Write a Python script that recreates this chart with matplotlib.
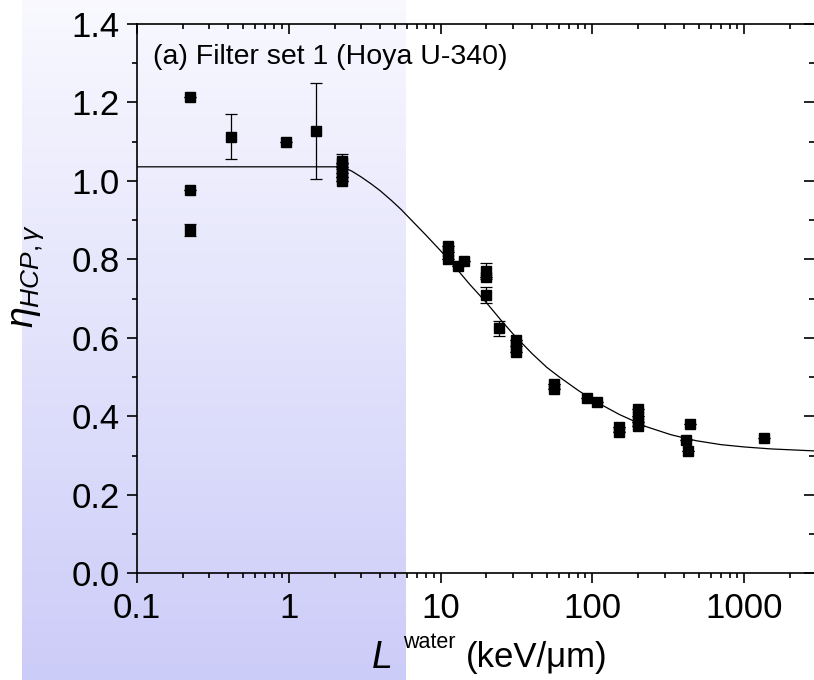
import numpy as np
import matplotlib
matplotlib.use("Agg")
import matplotlib.pyplot as plt
from matplotlib.ticker import FixedLocator, NullFormatter, LogLocator

plt.rcParams['font.family'] = ['Liberation Sans', 'DejaVu Sans']
plt.rcParams['mathtext.fontset'] = 'custom'
plt.rcParams['mathtext.rm'] = 'Liberation Sans'
plt.rcParams['mathtext.it'] = 'Liberation Sans:italic'

# measured points (LET in keV/um, eta)
let_vals = [0.223, 0.223, 0.223, 0.413, 0.955, 1.50,
            2.24, 2.24, 2.24, 2.24, 2.24, 2.24,
            11.1, 11.1, 11.1, 13.1, 14.2,
            19.8, 19.8, 19.8, 24.2,
            31.5, 31.5, 31.5, 56.2, 56.2,
            91.9, 107, 149, 149,
            199, 199, 199, 199,
            437, 412, 423, 1340]
eta_vals = [1.215, 0.978, 0.875, 1.113, 1.099, 1.128,
            1.000, 1.010, 1.020, 1.035, 1.045, 1.050,
            0.835, 0.818, 0.800, 0.783, 0.796,
            0.770, 0.755, 0.710, 0.624,
            0.595, 0.580, 0.565, 0.482, 0.470,
            0.446, 0.436, 0.372, 0.360,
            0.420, 0.402, 0.386, 0.375,
            0.380, 0.341, 0.312, 0.344]
eta_err = [0.0, 0.0, 0.015, 0.057, 0.0, 0.122,
           0.0, 0.0, 0.0, 0.0, 0.0, 0.019,
           0.0, 0.0, 0.0, 0.0, 0.0,
           0.02, 0.0, 0.02, 0.02,
           0.0, 0.0, 0.0, 0.0, 0.0,
           0.0, 0.0, 0.0, 0.0,
           0.0, 0.0, 0.0, 0.0,
           0.0, 0.0, 0.0, 0.0]

# fitted curve
fit_x = [0.1, 2.25, 2.6, 3.0, 3.5, 4.0, 4.75, 5.5, 6.5, 8.0, 10.0, 12.5, 15.5,
         20, 25, 30, 40, 50, 60.7, 80, 100, 150, 225, 330, 481, 700, 1000,
         1500, 2880]
fit_y = [1.036, 1.036, 1.025, 1.010, 0.992, 0.975, 0.950, 0.927, 0.898, 0.862,
         0.822, 0.780, 0.737, 0.690, 0.645, 0.610, 0.560, 0.525, 0.500, 0.467,
         0.442, 0.405, 0.374, 0.353, 0.338, 0.328, 0.322, 0.317, 0.312]

W, H = 814, 680
fig = plt.figure(figsize=(W / 100, H / 100), dpi=100)

# shaded band behind the left part
bg = fig.add_axes([22 / W, 0, (406 - 22) / W, 1], zorder=0)
top_c = np.array([0.975, 0.975, 1.0])
bot_c = np.array([0.80, 0.80, 0.975])
t = np.linspace(0, 1, 256)[:, None]
grad = (top_c * (1 - t) + bot_c * t)[:, None, :]
bg.imshow(grad, aspect='auto', extent=[0, 1, 0, 1])
bg.axis('off')

ax = fig.add_axes([137 / W, 1 - 573.3 / H, (W - 137) / W, (573.3 - 24) / H], zorder=1)
ax.patch.set_alpha(0)

ax.plot(fit_x, fit_y, color='black', lw=0.9, zorder=2)
ax.errorbar(let_vals, eta_vals, yerr=eta_err, fmt='s', color='black', ms=7.5,
            ecolor='black', elinewidth=0.9, capsize=4, capthick=0.9, zorder=3)

ax.set_xscale('log')
ax.set_xlim(0.1, 2880)
ax.set_ylim(0, 1.4)
ax.set_xticks([0.1, 1, 10, 100, 1000])
ax.set_xticklabels(['0.1', '1', '10', '100', '1000'])
ax.xaxis.set_minor_locator(LogLocator(base=10, subs=np.arange(2, 10)))
ax.xaxis.set_minor_formatter(NullFormatter())
ax.set_yticks(np.arange(0, 1.41, 0.2))
ax.set_yticklabels(['%.1f' % v for v in np.arange(0, 1.41, 0.2)])
ax.yaxis.set_minor_locator(FixedLocator(np.arange(0.1, 1.4, 0.2)))

ax.spines['right'].set_visible(False)
for s in ['left', 'bottom', 'top']:
    ax.spines[s].set_linewidth(1.2)

ax.tick_params(which='both', labelsize=25, width=1.2, direction='out')
ax.tick_params(axis='y', pad=5)
ax.tick_params(axis='x', pad=6)
ax.tick_params(which='major', length=7.5)
ax.tick_params(which='minor', length=3.8)
ax.tick_params(axis='x', which='both', top=True)
ax.tick_params(axis='y', which='both', right=True)
# top and right ticks point inward
for tk in ax.xaxis.get_major_ticks() + ax.xaxis.get_minor_ticks():
    tk.tick2line.set_marker(3)
for tk in ax.yaxis.get_major_ticks() + ax.yaxis.get_minor_ticks():
    tk.tick2line.set_marker(0)

fig.text(153 / W, 1 - 57 / H, '(a) Filter set 1 (Hoya U-340)', fontsize=20.5,
         va='center', ha='left')

fig.text(28 / W, 1 - 276 / H, r'$\eta_{HCP,\gamma}$', fontsize=27, rotation=90,
         va='center', ha='center')

fig.text(372 / W, 1 - 668 / H, 'L', fontsize=27, style='italic', va='baseline', ha='left')
fig.text(403 / W, 1 - 648 / H, 'water', fontsize=15.5, va='baseline', ha='left')
fig.text(388 / W, 1 - 690 / H, '\u221e', fontsize=15, va='baseline', ha='left')
fig.text(466 / W, 1 - 667 / H, '(keV/\u03bcm)', fontsize=25, va='baseline', ha='left')

fig.savefig('out.png', dpi=100)
